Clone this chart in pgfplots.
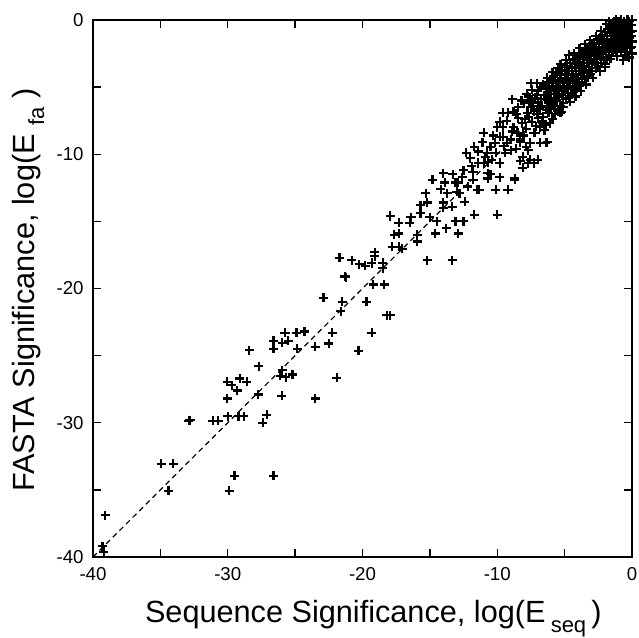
\documentclass[border=0pt]{standalone}
\usepackage{fontspec}
\setmainfont{Liberation Sans}
\usepackage{pgfplots}
\pgfplotsset{compat=1.18}
\begin{document}
\begin{tikzpicture}
\begin{axis}[
  name=ax,
  scale only axis,
  width=404.25pt, height=402.75pt,
  xmin=-40, xmax=0, ymin=-40, ymax=0,
  xtick={-40,-30,-20,-10,0}, ytick={-40,-30,-20,-10,0},
  xticklabels={-40,-30,-20,-10,0}, yticklabels={-40,-30,-20,-10,0},
  minor tick num=1,
  tick align=inside, tick pos=both,
  major tick length=6pt, minor tick length=6pt,
  every tick/.style={black, line width=1pt},
  axis line style={line width=1.3pt},
  tick label style={font=\fontsize{14}{16}\selectfont},
  xticklabel style={yshift=-4pt},
  yticklabel style={xshift=-3.5pt},
  clip=false,
  xlabel={Sequence Significance, log(E\,\raisebox{-0.3em}{\fontsize{16.5}{16.5}\selectfont seq}\,)},
  ylabel={FASTA Significance, log(E \raisebox{-0.3em}{\fontsize{16.5}{16.5}\selectfont fa} )},
  label style={font=\fontsize{23}{26}\selectfont},
  xlabel style={at={(axis description cs:0.520,-0.1229)}, anchor=base},
  ylabel style={at={(axis description cs:-0.1076,0.497)}, anchor=base, rotate=0},
]
\addplot[black, dashed, line width=0.9pt, dash pattern=on 4pt off 3pt] coordinates {(-40,-40) (0,0)};
\addplot[only marks, mark=+, mark size=3.4pt, mark options={line width=1.65pt, black}] table {
x y
-39.1 -36.9
-39.3 -39.2
-39.2 -39.6
-34.95 -33.06
-34.06 -33.06
-34.4 -35.07
-29.5 -33.95
-29.9 -35.07
-26.6 -33.95
-32.9 -29.86
-32.8 -29.8
-31.1 -29.86
-30.7 -29.86
-30.0 -29.5
-29.2 -29.5
-28.8 -29.5
-27.4 -30.0
-27.1 -29.4
-30.05 -28.2
-30.05 -26.95
-29.7 -27.2
-29.3 -27.6
-29.1 -26.7
-28.6 -26.95
-28.4 -24.6
-27.7 -25.8
-27.75 -27.9
-26.6 -23.9
-26.6 -24.5
-25.97 -24.05
-25.5 -23.9
-25.75 -23.3
-24.9 -23.3
-24.3 -23.2
-24.85 -24.5
-25.97 -26.1
-26.1 -26.5
-25.7 -26.6
-25.2 -26.4
-26.0 -28.0
-23.5 -28.2
-23.5 -24.35
-22.25 -23.3
-19.3 -23.3
-22.5 -24.1
-20.3 -24.65
-21.9 -26.65
-22.9 -20.7
-21.6 -21.7
-21.5 -21.0
-19.7 -21.0
-19.2 -19.7
-18.4 -19.7
-18.2 -22.0
-17.95 -22.0
-21.7 -17.7
-21.3 -19.1
-21.25 -19.15
-20.8 -17.9
-20.25 -18.2
-19.8 -18.3
-19.3 -18.1
-19.1 -17.3
-19.1 -17.6
-18.5 -18.1
-18.5 -18.5
-15.2 -17.9
-13.35 -17.9
-17.95 -14.6
-17.8 -16.9
-17.3 -16.9
-17.05 -17.05
-17.65 -16.0
-17.3 -15.9
-17.3 -15.1
-16.5 -15.1
-16.4 -14.7
-15.95 -16.0
-15.95 -16.5
-15.7 -14.4
-15.7 -13.8
-15.3 -12.9
-15.2 -13.6
-15.0 -14.7
-14.6 -15.9
-14.5 -15.0
-14.8 -11.9
-14.2 -12.6
-14.0 -11.4
-13.9 -12.1
-13.7 -12.9
-14.0 -13.6
-14.0 -14.0
-13.35 -13.9
-13.8 -15.5
-13.1 -15.0
-12.9 -15.9
-12.5 -15.0
-12.4 -13.55
-11.7 -14.5
-10.0 -14.5
-13.3 -11.5
-13.1 -12.1
-12.9 -12.1
-12.6 -11.7
-12.5 -11.2
-12.8 -12.9
-13.0 -12.8
-12.2 -12.4
-11.8 -11.9
-11.5 -12.65
-11.8 -11.3
-11.35 -12.65
-10.7 -11.8
-10.7 -11.4
-10.1 -12.65
-9.2 -12.65
-8.7 -11.9
-11.7 -9.45
-11.0 -8.4
-11.1 -9.1
-11.4 -10.65
-11.0 -10.65
-10.7 -10.6
-10.4 -10.4
-10.75 -9.9
-10.5 -9.45
-10.15 -9.15
-9.8 -8.7
-9.6 -8.0
-9.6 -6.9
-9.8 -7.6
-9.8 -10.65
-9.4 -9.9
-9.3 -9.15
-9.0 -9.7
-8.9 -5.9
-9.2 -6.9
-8.8 -6.85
-8.45 -6.5
-8.45 -7.3
-8.8 -8.0
-8.5 -8.4
-8.15 -7.7
-8.3 -9.1
-8.1 -8.55
-8.1 -10.2
-8.3 -10.5
-8.1 -11.0
-7.7 -10.65
-7.3 -10.65
-7.0 -10.4
-7.3 -8.4
-7.55 -9.15
-7.2 -8.4
-6.8 -9.15
-6.4 -9.15
-7.85 -9.45
-7.5 -4.7
-7.05 -4.7
-7.7 -5.7
-7.5 -6.5
-7.05 -5.6
-6.8 -6.5
-6.95 -7.3
-6.65 -7.7
-6.1 -7.7
-5.3 -6.9
-6.3 -5.95
-6.1 -5.2
-5.85 -4.6
-5.55 -3.95
-5.5 -3.6
-5.2 -6.85
-4.75 -5.45
-4.2 -5.7
-4.35 -4.7
-4.1 -3.0
-3.6 -3.5
-3.3 -4.3
-3.0 -1.9
-2.4 -2.45
-2.0 -3.5
-1.85 -3.0
-1.6 -2.1
-0.65 -3.0
-10.9 -10.2
-10.0 -8.0
-9.55 -8.7
-8.9 -8.3
-8.3 -8.9
-7.55 -10.4
-7.7 -9.7
-6.3 -9.1
-7.4 -6.2
-6.3 -6.5
-10.5 -11.5
-8.7 -11.8
-9.8 -11.7
-9.3 -7.5
-9.0 -8.9
-8.6 -7.0
-8.6 -9.6
-8.2 -6.0
-10.3 -8.6
-10.1 -9.9
-9.5 -9.4
-11.4 -9.8
-12.0 -10.3
-12.3 -9.9
-11.9 -10.9
-8.0 -6.2
-7.95 -7.4
-8.05 -8.6
-7.8 -5.5
-7.75 -6.9
-7.85 -8.1
-7.6 -6.0
-7.65 -7.2
-7.4 -5.2
-7.35 -6.4
-7.45 -7.6
-7.2 -5.8
-7.25 -6.8
-7.15 -7.9
-7.0 -5.3
-6.95 -6.1
-7.05 -7.0
-6.85 -8.0
-6.8 -5.0
-6.75 -5.9
-6.85 -6.6
-6.7 -7.5
-6.6 -4.8
-6.55 -5.6
-6.65 -6.4
-6.6 -7.2
-6.5 -8.2
-6.4 -5.1
-6.45 -5.9
-6.35 -6.7
-6.4 -7.8
-6.2 -4.6
-6.25 -5.4
-6.15 -6.1
-6.2 -6.9
-6.0 -4.4
-5.95 -5.0
-6.05 -5.8
-6.0 -6.5
-5.9 -7.4
-5.8 -4.2
-5.85 -4.9
-5.75 -5.5
-5.8 -6.3
-5.7 -7.0
-5.6 -4.0
-5.65 -4.7
-5.55 -5.3
-5.6 -6.0
-5.5 -6.8
-5.4 -3.8
-5.35 -4.5
-5.45 -5.1
-5.4 -5.7
-5.3 -6.4
-5.2 -3.7
-5.25 -4.3
-5.15 -4.9
-5.2 -5.5
-5.1 -6.2
-5.0 -3.5
-4.95 -4.1
-5.05 -4.7
-5.0 -5.3
-4.9 -5.9
-4.8 -3.4
-4.85 -4.0
-4.75 -4.5
-4.8 -5.1
-4.7 -5.8
-4.6 -3.2
-4.65 -3.8
-4.55 -4.3
-4.6 -4.9
-4.5 -5.5
-4.4 -3.0
-4.45 -3.6
-4.35 -4.1
-4.4 -4.7
-4.3 -5.3
-4.2 -2.9
-4.25 -3.5
-4.15 -4.0
-4.2 -4.5
-4.1 -5.1
-4.0 -2.7
-4.05 -3.3
-3.95 -3.8
-4.0 -4.3
-3.9 -4.9
-3.8 -2.5
-3.85 -3.1
-3.75 -3.6
-3.8 -4.1
-3.7 -4.6
-3.6 -2.4
-3.65 -2.9
-3.55 -3.4
-3.6 -3.9
-3.5 -4.4
-3.4 -2.2
-3.45 -2.7
-3.35 -3.2
-3.4 -3.7
-3.3 -4.2
-3.2 -2.0
-3.25 -2.5
-3.15 -3.0
-3.2 -3.5
-3.1 -4.0
-3.0 -2.4
-3.05 -2.9
-2.95 -3.3
-3.0 -3.8
-2.8 -1.7
-2.85 -2.2
-2.75 -2.7
-2.8 -3.1
-2.7 -3.6
-2.6 -1.5
-2.65 -2.0
-2.55 -2.5
-2.6 -2.9
-2.5 -3.4
-2.4 -1.3
-2.45 -1.8
-2.35 -2.3
-2.4 -2.7
-2.3 -3.2
-2.2 -1.1
-2.25 -1.6
-2.15 -2.1
-2.2 -2.5
-2.1 -3.0
-2.0 -0.9
-2.05 -1.4
-1.95 -1.9
-2.0 -2.3
-1.9 -2.8
-1.8 -0.7
-1.85 -1.2
-1.75 -1.7
-1.8 -2.1
-1.7 -2.6
-1.6 -0.4
-1.65 -0.9
-1.55 -1.4
-1.6 -1.9
-1.5 -2.4
-1.4 -0.2
-1.45 -0.6
-1.35 -1.0
-1.4 -1.4
-1.45 -1.8
-1.35 -2.2
-1.2 0.0
-1.25 -0.4
-1.15 -0.8
-1.2 -1.2
-1.25 -1.6
-1.15 -2.0
-1.2 -2.4
-1.0 -0.1
-1.05 -0.5
-0.95 -0.9
-1.0 -1.3
-1.05 -1.7
-0.95 -2.1
-0.8 0.0
-0.85 -0.3
-0.75 -0.7
-0.8 -1.1
-0.85 -1.5
-0.75 -1.9
-0.8 -2.3
-0.6 -0.1
-0.65 -0.5
-0.55 -0.9
-0.6 -1.3
-0.65 -1.7
-0.55 -2.1
-0.4 0.0
-0.45 -0.3
-0.35 -0.7
-0.4 -1.1
-0.45 -1.5
-0.35 -1.9
-0.4 -2.4
-0.2 -0.1
-0.25 -0.5
-0.15 -0.9
-0.2 -1.3
-0.25 -1.7
-0.15 -2.1
0.0 0.0
-0.05 -0.4
0.0 -0.8
-0.05 -1.2
0.0 -1.6
-0.05 -2.0
0.0 -2.5
-5.9 -3.9
-5.3 -3.3
-4.9 -3.0
-4.7 -2.6
-4.3 -2.5
-3.9 -2.1
-3.5 -1.8
-3.1 -1.5
-2.7 -1.2
-2.3 -0.8
-1.9 -0.3
-6.3 -4.3
-5.7 -6.6
-5.1 -6.5
-4.6 -6.1
-3.8 -5.3
-3.4 -4.8
-2.9 -4.3
-2.4 -3.8
-2.0 -3.3
-1.6 -2.9
-1.1 -2.7
-0.5 -2.6
-0.2 -2.8
-1.3 -0.1
-1.7 -0.1
-0.3 0.0
-0.9 -0.2
};
\end{axis}
\pgfresetboundingbox
\path[use as bounding box] (ax.south west) ++(-69.75pt,-60.75pt) rectangle ++(479.25pt,478.5pt);
\end{tikzpicture}
\end{document}
